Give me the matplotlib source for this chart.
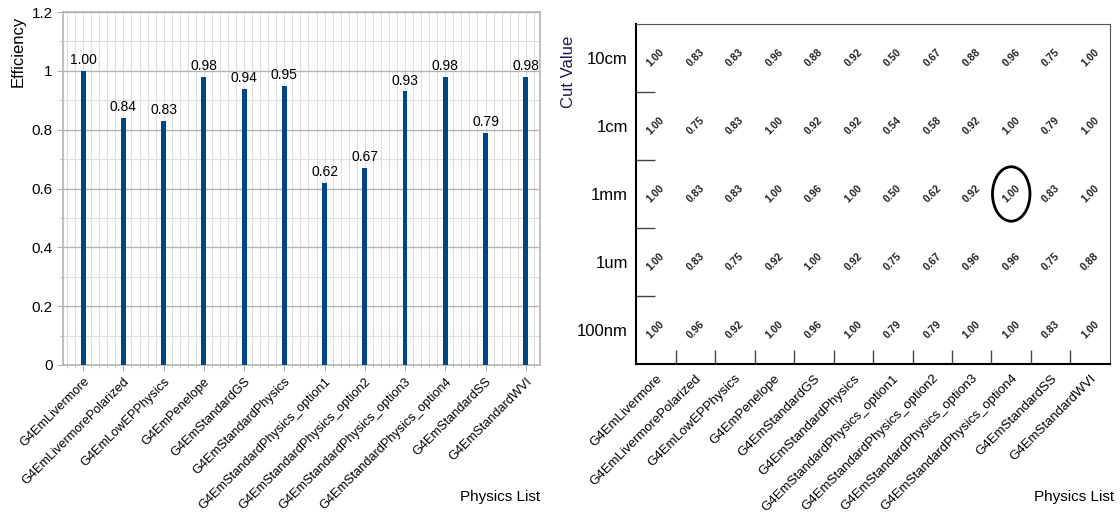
import numpy as np
import matplotlib
matplotlib.use('Agg')
import matplotlib.pyplot as plt
from matplotlib.patches import Ellipse
from matplotlib.ticker import MultipleLocator, FixedLocator


physics_lists = ['G4EmLivermore', 'G4EmLivermorePolarized', 'G4EmLowEPPhysics',
                 'G4EmPenelope', 'G4EmStandardGS', 'G4EmStandardPhysics',
                 'G4EmStandardPhysics_option1', 'G4EmStandardPhysics_option2',
                 'G4EmStandardPhysics_option3', 'G4EmStandardPhysics_option4',
                 'G4EmStandardSS', 'G4EmStandardWVI']

efficiency = [1.00, 0.84, 0.83, 0.98, 0.94, 0.95, 0.62, 0.67, 0.93, 0.98, 0.79, 0.98]

cut_values = ['10cm', '1cm', '1mm', '1um', '100nm']

eff_10cm = [1.00, 0.83, 0.83, 0.96, 0.88, 0.92, 0.50, 0.67, 0.88, 0.96, 0.75, 1.00]
eff_1cm = [1.00, 0.75, 0.83, 1.00, 0.92, 0.92, 0.54, 0.58, 0.92, 1.00, 0.79, 1.00]
eff_1mm = [1.00, 0.83, 0.83, 1.00, 0.96, 1.00, 0.50, 0.62, 0.92, 1.00, 0.83, 1.00]
eff_1um = [1.00, 0.83, 0.75, 0.92, 1.00, 0.92, 0.75, 0.67, 0.96, 0.96, 0.75, 0.88]
eff_100nm = [1.00, 0.96, 0.92, 1.00, 0.96, 1.00, 0.79, 0.79, 1.00, 1.00, 0.83, 1.00]

# highlighted cell: (physics list index, cut index)
highlight = (9, 2)

plt.rcParams['font.family'] = ['Liberation Sans', 'DejaVu Sans']

fig = plt.figure(figsize=(11.2, 5.13), dpi=100)

#### Left: efficiency per physics list
ax1 = fig.add_axes([0.0563, 0.2885, 0.4257, 0.688])

x = np.arange(len(physics_lists))
ax1.bar(x, efficiency, width=0.12, color='#004586', zorder=3)
for xi, val in zip(x, efficiency):
    ax1.text(xi, val + 0.012, '%.2f' % val, ha='center', va='bottom', fontsize=10, zorder=4)

ax1.set_xlim(-0.5, len(physics_lists) - 0.65)
ax1.set_ylim(0, 1.2)
ax1.set_yticks(np.arange(0, 1.21, 0.2))
ax1.set_yticklabels(['0', '0.2', '0.4', '0.6', '0.8', '1', '1.2'], fontsize=11)
ax1.yaxis.set_minor_locator(MultipleLocator(0.1))
ax1.xaxis.set_minor_locator(MultipleLocator(0.2))
ax1.set_xticks(x)
ax1.set_xticklabels(physics_lists, rotation=45, ha='right', rotation_mode='anchor', fontsize=9.2)

ax1.grid(True, which='major', axis='y', color='#b3b3b3', lw=1, zorder=0)
ax1.grid(True, which='minor', axis='y', color='#dddddd', lw=0.8, zorder=0)
ax1.grid(True, which='both', axis='x', color='#dddddd', lw=0.8, zorder=0)
for s in ax1.spines.values():
    s.set_color('#b3b3b3')
    s.set_linewidth(1.2)
ax1.tick_params(axis='both', which='both', color='#b3b3b3', length=4)
ax1.tick_params(axis='both', which='minor', length=2)

ax1.set_ylabel('Efficiency', fontsize=12)
ax1.yaxis.set_label_coords(-0.078, 0.89)
fig.text(0.482, 0.017, 'Physics List', ha='right', va='bottom', fontsize=11)

#### Right: efficiency per physics list and cut value
ax2 = fig.add_axes([0.568, 0.2904, 0.423, 0.663])

grid_rows = [eff_10cm, eff_1cm, eff_1mm, eff_1um, eff_100nm]
n_cuts = len(cut_values)
for i, row in enumerate(grid_rows):
    for j, val in enumerate(row):
        ax2.text(j, n_cuts - 1 - i, '%.2f' % val, ha='center', va='center',
                 rotation=45, fontsize=7.5, fontweight='bold', color='#222222')

ax2.add_patch(Ellipse((highlight[0], n_cuts - 1 - highlight[1]), 0.95, 0.8,
                      fill=False, lw=2, color='black'))

ax2.set_xlim(-0.5, len(physics_lists) - 0.5)
ax2.set_ylim(-0.5, n_cuts - 0.5)
ax2.set_yticks(np.arange(n_cuts))
ax2.set_yticklabels(cut_values[::-1], fontsize=12)
ax2.yaxis.set_minor_locator(FixedLocator(np.arange(0.5, n_cuts - 1, 1)))
ax2.set_xticks(x)
ax2.set_xticklabels(physics_lists, rotation=45, ha='right', rotation_mode='anchor', fontsize=9.5)
ax2.xaxis.set_minor_locator(FixedLocator(np.arange(0.5, len(physics_lists) - 1, 1)))
ax2.tick_params(axis='both', which='major', length=0, pad=6)
ax2.tick_params(axis='both', which='minor', direction='in', length=10, width=1, color='#444444')
ax2.tick_params(axis='y', which='minor', length=14)

ax2.spines['left'].set_linewidth(1.5)
ax2.spines['bottom'].set_linewidth(1.5)
ax2.spines['top'].set_color('#555555')
ax2.spines['right'].set_color('#555555')

ax2.set_ylabel('Cut Value', fontsize=12, color='#1a1a4d')
ax2.yaxis.set_label_coords(-0.128, 0.86)
fig.text(0.995, 0.017, 'Physics List', ha='right', va='bottom', fontsize=11)

fig.savefig('out.png', dpi=100)
